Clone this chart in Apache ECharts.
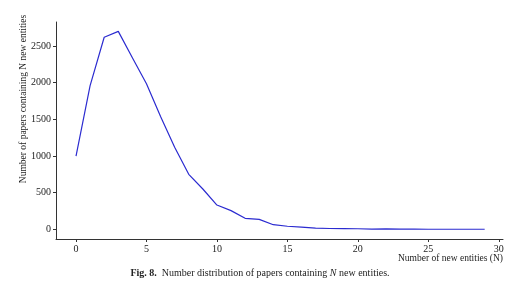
<!DOCTYPE html>
<html><head><meta charset="utf-8">
<script src="https://cdn.jsdelivr.net/npm/echarts@6/dist/echarts.min.js"></script>
<style>html,body{margin:0;padding:0;background:#fff}#c{width:526px;height:283px}</style>
</head><body><div id="c"></div>
<script>
const nValues = [0,1,2,3,4,5,6,7,8,9,10,11,12,13,14,15,16,17,18,19,20,21,22,23,24,25,26,27,28,29];
const paperCounts = [1000,1960,2620,2700,2340,1985,1540,1120,750,550,331,255,150,136,63,42,30,16,11,10,8,3,5,2,2,1,1,1,1,1];
const xTicks = [0,5,10,15,20,25,30];
const yTicks = [0,500,1000,1500,2000,2500];
const xTitle = 'Number of new entities (N)';
const yTitle = 'Number of papers containing N new entities';

const serif = '"Liberation Serif", "DejaVu Serif", serif';
const chart = echarts.init(document.getElementById('c'), null, {renderer:'canvas'});
chart.setOption({
  animation:false,
  backgroundColor:'#fff',
  grid:{left:56,right:23,top:22,bottom:44,containLabel:false},
  xAxis:{type:'value',min:-1.42,max:30.3,
    axisLine:{show:true,onZero:false,lineStyle:{color:'#333',width:1}},
    axisTick:{show:true,length:3,lineStyle:{color:'#333'},customValues:xTicks},
    axisLabel:{color:'#222',fontFamily:serif,fontSize:10,margin:5,customValues:xTicks,formatter:v=>String(v)},
    splitLine:{show:false}},
  yAxis:{type:'value',min:-132,max:2828,
    axisLine:{show:true,onZero:false,lineStyle:{color:'#333',width:1}},
    axisTick:{show:true,length:3,lineStyle:{color:'#333'},customValues:yTicks},
    axisLabel:{color:'#222',fontFamily:serif,fontSize:10,margin:5,customValues:yTicks,formatter:v=>String(v)},
    splitLine:{show:false}},
  series:[{type:'line',data:nValues.map((n,i)=>[n,paperCounts[i]]),
    showSymbol:false,lineStyle:{color:'#2b2bd0',width:1.2},itemStyle:{color:'#2b2bd0'}}],
  graphic:[
    {type:'text',x:23,y:99,rotation:Math.PI/2,
      style:{text:yTitle,fill:'#222',font:'9.5px '+serif,align:'center',verticalAlign:'middle'}},
    {type:'text',x:503,y:258,
      style:{text:xTitle,fill:'#222',font:'9.5px '+serif,align:'right',verticalAlign:'middle'}},
    {type:'text',x:260,y:273,
      style:{text:'{b|Fig. 8.}  Number distribution of papers containing {i|N} new entities.',
        rich:{b:{fontWeight:'bold',fontFamily:serif,fontSize:10,fill:'#222'},
              i:{fontStyle:'italic',fontFamily:serif,fontSize:10,fill:'#222'}},
        fill:'#222',font:'10px '+serif,align:'center',verticalAlign:'middle'}}
  ]
});
</script></body></html>
